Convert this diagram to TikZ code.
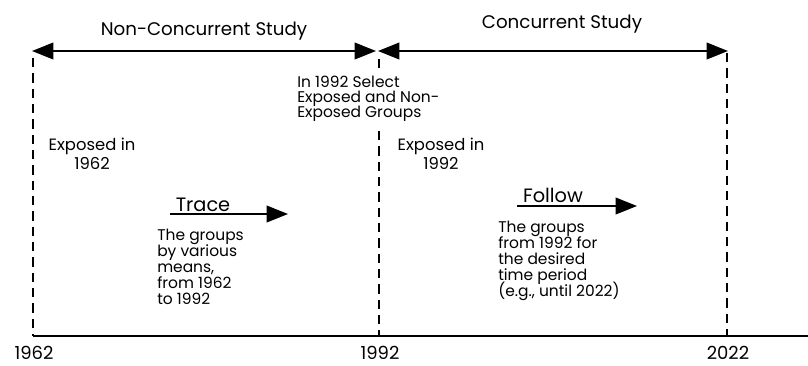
\documentclass[tikz,border=0pt]{standalone}
\usepackage{fontspec}
\setmainfont{Poppins}
\usetikzlibrary{arrows.meta}
\newcommand\mytightlines{\lineskiplimit=-20pt\relax\lineskip=0pt\relax}
\begin{document}
\begin{tikzpicture}[x=0.75pt,y=-0.75pt,
  line/.style={line width=1.1pt},
  dline/.style={line width=0.8pt,dash pattern=on 7pt off 4.5pt},
  arr/.style={line width=1.2pt,-{Triangle[length=16pt,width=12.5pt]}},
  darr/.style={line width=1.2pt,{Triangle[length=16pt,width=12.5pt]}-{Triangle[length=16pt,width=12.5pt]}},
  title/.style={font=\fontsize{13.7}{16}\selectfont,inner sep=0pt,anchor=base},
  verb/.style={font=\fontsize{14.5}{16}\selectfont,inner sep=0pt,anchor=base},
  year/.style={font=\fontsize{13.5}{16}\selectfont,inner sep=0pt,anchor=base},
  body/.style={font=\fontsize{11.6}{11.9}\selectfont\mytightlines,inner sep=0pt,align=left,anchor=north west},
  cbody/.style={font=\fontsize{12.3}{14}\selectfont,inner sep=0pt,align=center,anchor=north}]
\useasboundingbox (0,0) rectangle (808,365);
% key points
\coordinate (aL) at (32,51);
\coordinate (aM1) at (376,51);
\coordinate (aM2) at (378,51);
\coordinate (aR) at (728,51);
\coordinate (b1962) at (33,336);
\coordinate (b1992) at (379,336);
\coordinate (b2022) at (727,336);
\coordinate (bEnd) at (808,336);
\coordinate (t1962) at (33,58);
\coordinate (t1992a) at (379,59);
\coordinate (t1992b) at (379,68);
\coordinate (t1992c) at (379,131);
\coordinate (t2022) at (727,53);
% titles
\node[title] (nc) at (204,35) {Non-Concurrent Study};
\node[title] (cs) at (562,28) {Concurrent Study};
% study arrows
\draw[darr] (aL) -- (aM1);
\draw[darr] (aM2) -- (aR);
% base line
\draw[line] (b1962) -- (bEnd);
% dashed verticals
\draw[dline] (t1962) -- (b1962);
\draw[dline] (t1992a) -- (t1992b);
\draw[dline] (t1992c) -- (b1992);
\draw[dline] (t2022) -- (b2022);
% years
\node[year] (y1) at (34,359) {1962};
\node[year] (y2) at (380,359) {1992};
\node[year] (y3) at (728,359) {2022};
% texts
\node[body,font=\fontsize{11.6}{11.3}\selectfont\mytightlines] (sel) at (297,76) {In 1992 Select\\Exposed and Non-\\Exposed Groups};
\node[cbody] (e62) at (92,138) {Exposed in\\1962};
\node[cbody] (e92) at (441,138) {Exposed in\\1992};
% trace
\node[verb] (tr) at (203,211) {Trace};
\coordinate (trA) at (170,214);
\coordinate (trB) at (288,214);
\draw[arr] (trA) -- (trB);
\node[body] (trt) at (157,229) {The groups\\by various\\means,\\from 1962\\to 1992};
% follow
\node[verb] (fo) at (553,202) {Follow};
\coordinate (foA) at (517,206);
\coordinate (foB) at (637,206);
\draw[arr] (foA) -- (foB);
\node[body] (fot) at (498,221) {The groups\\from 1992 for\\the desired\\time period\\(e.g., until 2022)};
\end{tikzpicture}
\end{document}
